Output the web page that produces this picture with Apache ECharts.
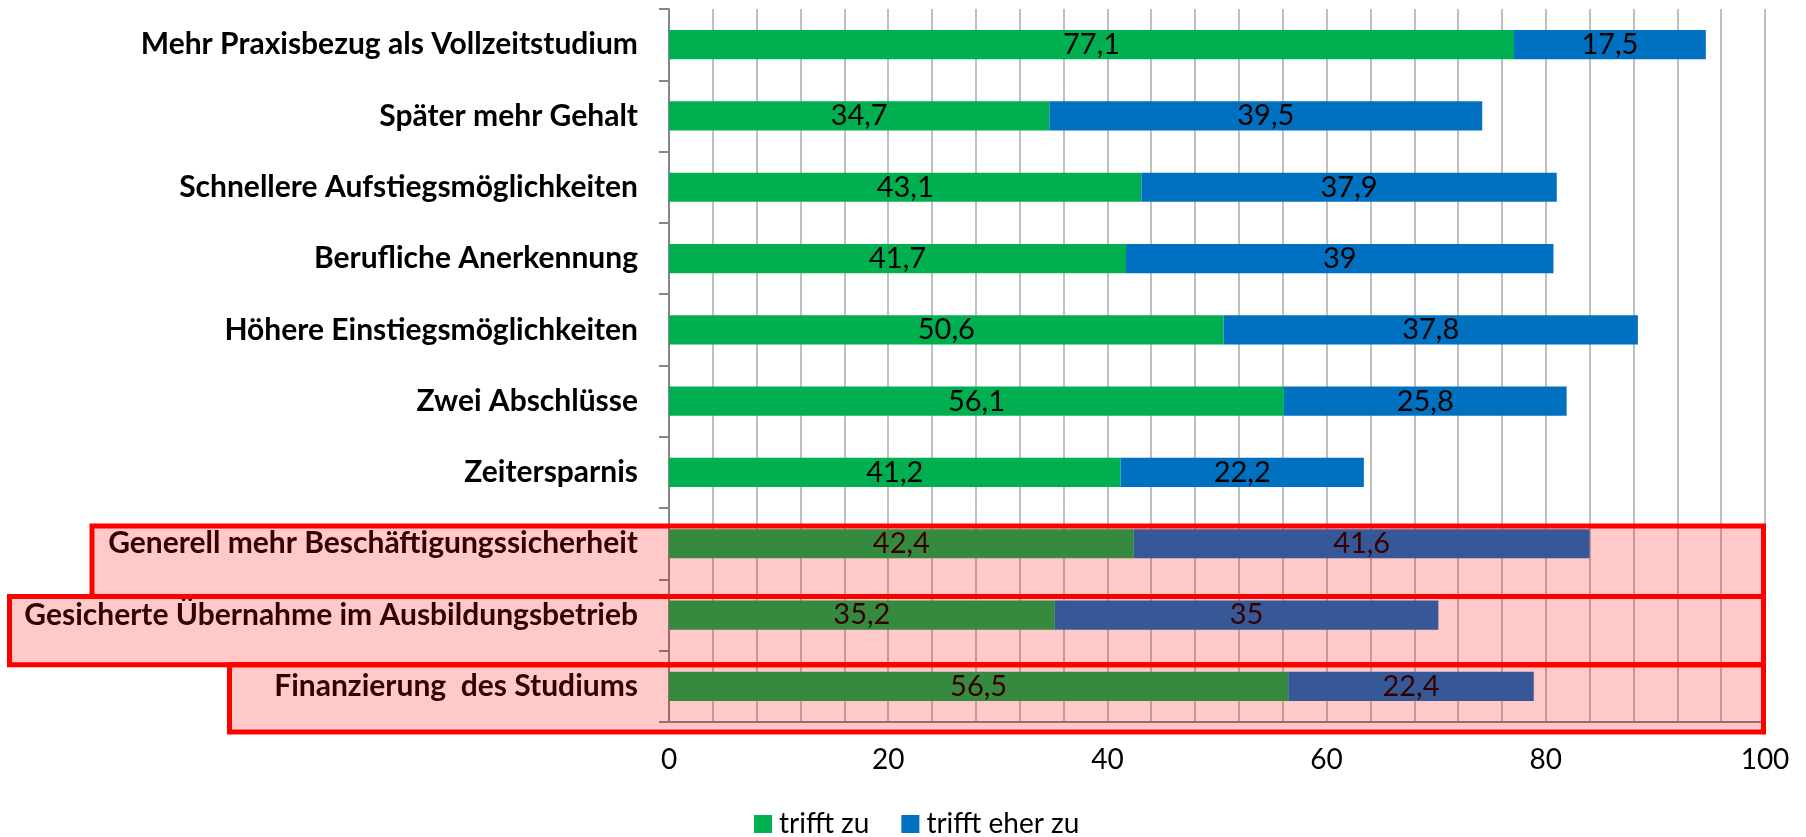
<!DOCTYPE html>
<html>
<head>
<meta charset="utf-8">
<script src="https://cdn.jsdelivr.net/npm/echarts@6/dist/echarts.min.js"></script>
<style>
  html, body { margin: 0; padding: 0; background: #ffffff; }
  #chart { width: 1806px; height: 837px; }
</style>
</head>
<body>
<div id="chart"></div>
<script>
// Gründe für ein duales Studium – Zustimmung in Prozent
const categories = [
  'Mehr Praxisbezug als Vollzeitstudium',
  'Später mehr Gehalt',
  'Schnellere Aufstiegsmöglichkeiten',
  'Berufliche Anerkennung',
  'Höhere Einstiegsmöglichkeiten',
  'Zwei Abschlüsse',
  'Zeitersparnis',
  'Generell mehr Beschäftigungssicherheit',
  'Gesicherte Übernahme im Ausbildungsbetrieb',
  'Finanzierung  des Studiums'
];
const trifftZu     = [77.1, 34.7, 43.1, 41.7, 50.6, 56.1, 41.2, 42.4, 35.2, 56.5];
const trifftEherZu = [17.5, 39.5, 37.9, 39.0, 37.8, 25.8, 22.2, 41.6, 35.0, 22.4];
const xTicks = [0, 20, 40, 60, 80, 100];

// highlighted rows (category index, left edge of frame, vertical shift inside band)
const highlightRows = [
  { row: 7, left: 92, dy: 18 },
  { row: 8, left: 9.5, dy: 17 },
  { row: 9, left: 229.5, dy: 14 }
];

const FONT = 'Lato, "Open Sans", sans-serif';
const fmt = p => String(p.value).replace('.', ',');

const chart = echarts.init(document.getElementById('chart'), null, { renderer: 'canvas' });

const option = {
  animation: false,
  backgroundColor: '#ffffff',
  textStyle: { fontFamily: FONT },
  grid: { left: 669, right: 41, top: 9, bottom: 115, containLabel: false },
  legend: {
    data: ['trifft zu', 'trifft eher zu'],
    left: 749,
    top: 805,
    icon: 'rect',
    itemWidth: 18,
    itemHeight: 18,
    itemGap: 32,
    textStyle: { fontFamily: FONT, fontSize: 28, color: '#000000', padding: [0, 0, 0, 2] }
  },
  xAxis: {
    type: 'value',
    min: xTicks[0],
    max: xTicks[xTicks.length - 1],
    interval: xTicks[1] - xTicks[0],
    axisLine: { show: true, lineStyle: { color: '#868686', width: 2 } },
    axisTick: { show: false },
    minorTick: { show: false, splitNumber: 5 },
    splitLine: { show: true, lineStyle: { color: '#bfbfbf', width: 2 } },
    minorSplitLine: { show: true, lineStyle: { color: '#bfbfbf', width: 2 } },
    axisLabel: { fontFamily: FONT, fontSize: 28, color: '#000000', margin: 24 }
  },
  yAxis: {
    type: 'category',
    inverse: true,
    data: categories,
    axisLine: { show: true, lineStyle: { color: '#868686', width: 2 } },
    axisTick: { show: true, length: 10, lineStyle: { color: '#868686', width: 2 } },
    splitLine: { show: false },
    axisLabel: {
      fontFamily: FONT, fontSize: 30, fontWeight: 'bold', color: '#000000', margin: 31
    }
  },
  series: [
    {
      name: 'trifft zu',
      type: 'bar',
      stack: 'gesamt',
      data: trifftZu,
      barWidth: '41%',
      itemStyle: { color: '#00b050' },
      label: { show: true, position: 'inside', color: '#000000', fontFamily: FONT, fontSize: 29, formatter: fmt }
    },
    {
      name: 'trifft eher zu',
      type: 'bar',
      stack: 'gesamt',
      data: trifftEherZu,
      barWidth: '41%',
      itemStyle: { color: '#0070c0' },
      label: { show: true, position: 'inside', color: '#000000', fontFamily: FONT, fontSize: 29, formatter: fmt }
    }
  ]
};

chart.setOption(option);

// red frames with translucent fill laid over the highlighted rows
function drawFrames() {
  const n = categories.length;
  const y0 = chart.convertToPixel({ yAxisIndex: 0 }, categories[0]);
  const y1 = chart.convertToPixel({ yAxisIndex: 0 }, categories[1]);
  const band = y1 - y0;
  const xRight = chart.convertToPixel({ xAxisIndex: 0 }, xTicks[xTicks.length - 1]) - 1.5;
  const plotBottom = chart.convertToPixel({ yAxisIndex: 0 }, categories[n - 1]) + band / 2;

  const tops = highlightRows.map(h =>
    chart.convertToPixel({ yAxisIndex: 0 }, categories[h.row]) - band / 2 + h.dy);

  const elements = highlightRows.map((h, i) => {
    const top = tops[i];
    const bottom = i < highlightRows.length - 1 ? tops[i + 1] : plotBottom + 10;
    return {
      type: 'rect',
      z: 100,
      silent: true,
      shape: { x: h.left, y: top, width: xRight - h.left, height: bottom - top },
      style: { fill: 'rgba(255,0,0,0.21)', stroke: '#ff0000', lineWidth: 5 }
    };
  });
  chart.setOption({ graphic: elements });
}
drawFrames();
</script>
</body>
</html>
